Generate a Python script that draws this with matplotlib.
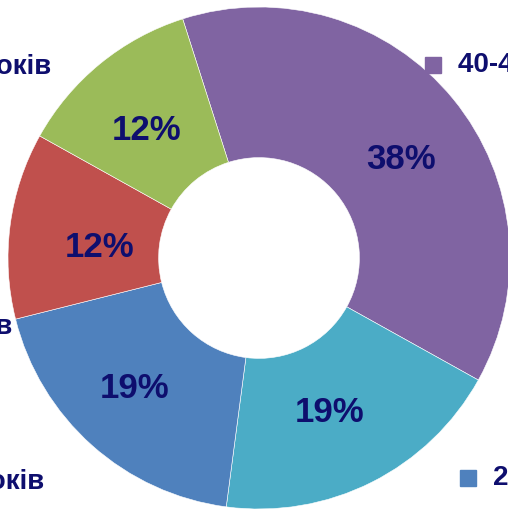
import matplotlib.pyplot as plt
from matplotlib.patches import Rectangle

# slices, clockwise from the top-left boundary
labels = ['40-49 років', '30-39 років', '20-29 років', 'понад 60 років', '50-59 років']
values = [38, 19, 19, 12, 12]
colors = ['#8064A2', '#4BACC6', '#4F81BD', '#C0504D', '#9BBB59']

W, H = 508, 509
navy = '#0E0E6E'
font = ['Liberation Sans Narrow', 'Liberation Sans', 'DejaVu Sans']

fig = plt.figure(figsize=(W / 100, H / 100), dpi=100)
ax = fig.add_axes([0, 0, 1, 1])
ax.set_xlim(0, W)
ax.set_ylim(0, H)
ax.set_aspect('equal')
ax.axis('off')

cx, cy, r = 259, H - 258, 251
wedges, texts, autotexts = ax.pie(
    values, colors=colors, startangle=107.7, counterclock=False,
    center=(cx, cy), radius=r, autopct='%d%%', pctdistance=0.70,
    wedgeprops=dict(width=r * 0.6, edgecolor='white', linewidth=0.4),
    textprops=dict(color=navy, fontsize=25, fontweight='bold', family=font))
ax.set_xlim(0, W)
ax.set_ylim(0, H)

# small nudges of the percent labels (pixels)
nudges = [(6, -13), (-8, 2), (-8, 1), (15, -12), (-1, -8)]
for t, (dx, dy) in zip(autotexts, nudges):
    x, y = t.get_position()
    t.set_position((x + dx, y + dy))

# legend entries, cut by the picture edges
legend_pos = {
    '40-49 років': (458, 65, 'left'),
    '20-29 років': (493, 478, 'left'),
    '50-59 років': (51, 67, 'right'),
    'понад 60 років': (12, 327, 'right'),
    '30-39 років': (44, 482, 'right'),
}
for lab, col in zip(labels, colors):
    x, y, ha = legend_pos[lab]
    ax.text(x, H - y, lab, ha=ha, va='center', color=navy, fontsize=20,
            fontweight='bold', family=font, clip_on=False)
    if ha == 'left':
        ax.add_patch(Rectangle((x - 33, H - y - 8), 16, 16, color=col, clip_on=False))

fig.savefig('out.png', dpi=100)
